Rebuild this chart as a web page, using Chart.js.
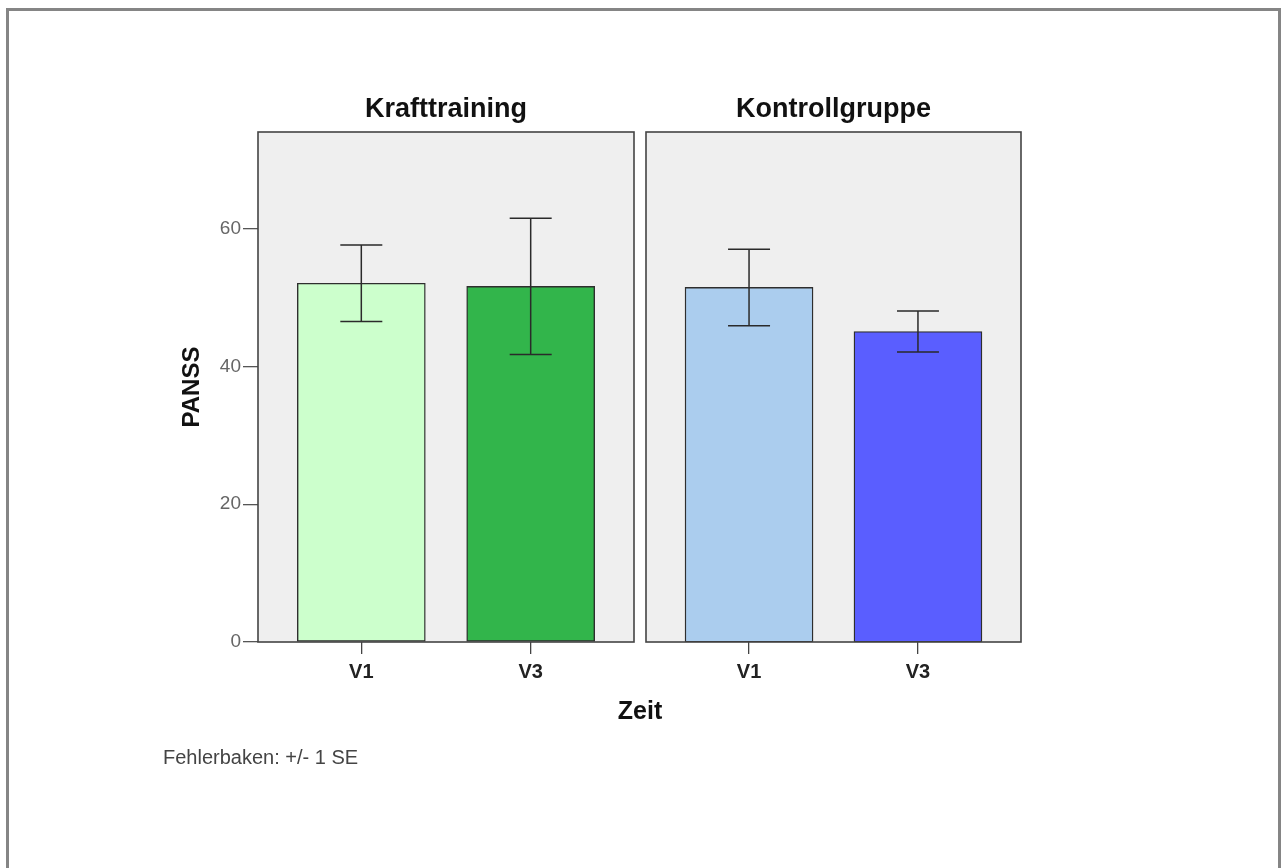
<!DOCTYPE html>
<html>
<head>
<meta charset="utf-8">
<script src="https://cdn.jsdelivr.net/npm/chart.js@4.4.1/dist/chart.umd.min.js"></script>
<style>
  html, body { margin: 0; padding: 0; background: #ffffff; }
  body { width: 1283px; height: 868px; position: relative; overflow: hidden;
         font-family: "Liberation Sans", Arial, sans-serif; }
  #rahmen { position: absolute; left: 6px; top: 8px; width: 1275px; height: 880px;
            border: 3px solid #858585; border-bottom: none; box-sizing: border-box; }
  canvas { position: absolute; top: 0; }
  #links { left: 0; }
  #rechts { left: 640px; }
  #zeit { position: absolute; left: 540px; width: 200px; top: 698px; text-align: center;
          font-weight: bold; font-size: 25px; line-height: 25px; color: #111; }
  #fussnote { position: absolute; left: 163px; top: 747px; font-size: 20px; line-height: 20px; color: #444; }
</style>
</head>
<body>
<div id="rahmen"></div>
<canvas id="links" width="640" height="868"></canvas>
<canvas id="rechts" width="643" height="868"></canvas>
<div id="zeit">Zeit</div>
<div id="fussnote">Fehlerbaken: +/- 1 SE</div>

<script>
// Gruppen (Panels) und Messzeitpunkte
const gruppen = ['Krafttraining', 'Kontrollgruppe'];
const zeitpunkte = ['V1', 'V3'];

// Mittelwerte PANSS und Standardfehler je Gruppe
const mittelKraft = [52.05, 51.6];
const seKraft = [5.55, 9.9];
const mittelKontrolle = [51.45, 45.05];
const seKontrolle = [5.55, 2.97];

// Achsenbeschriftung der PANSS-Skala
const yTicks = [0, 20, 40, 60];
const yMax = 74;

const farbenKraft = ['#ccffcc', '#32b54b'];
const farbenKontrolle = ['#abcdee', '#5a5eff'];

const schrift = '"Liberation Sans", Arial, sans-serif';

// Panel-Hintergrund, Rahmen und Fehlerbalken (+/- 1 SE)
const panelPlugin = {
  id: 'panel',
  beforeDraw(chart) {
    const a = chart.chartArea, ctx = chart.ctx;
    ctx.save();
    ctx.fillStyle = '#efefef';
    ctx.fillRect(a.left, a.top, a.right - a.left, a.bottom - a.top);
    ctx.restore();
  },
  afterDatasetsDraw(chart, args, opts) {
    const a = chart.chartArea, ctx = chart.ctx;
    const xs = chart.scales.x, ys = chart.scales.y;
    ctx.save();
    ctx.strokeStyle = '#2a2a2a';
    ctx.lineWidth = 1.5;
    opts.mittel.forEach((m, i) => {
      const x = xs.getPixelForValue(i + 1);
      const yo = ys.getPixelForValue(m + opts.se[i]);
      const yu = ys.getPixelForValue(m - opts.se[i]);
      ctx.beginPath();
      ctx.moveTo(x, yo); ctx.lineTo(x, yu);
      ctx.moveTo(x - 21, yo); ctx.lineTo(x + 21, yo);
      ctx.moveTo(x - 21, yu); ctx.lineTo(x + 21, yu);
      ctx.stroke();
    });
    ctx.strokeStyle = '#444444';
    ctx.lineWidth = 1.6;
    ctx.strokeRect(a.left, a.top, a.right - a.left, a.bottom - a.top);
    ctx.restore();
  }
};

function baueDiagramm(id, titel, mittel, se, farben, mitYAchse, padding) {
  return new Chart(document.getElementById(id), {
    type: 'bar',
    data: {
      datasets: [{
        data: mittel.map((v, i) => ({ x: i + 1, y: v })),
        backgroundColor: farben,
        borderColor: '#2e2e2e',
        borderWidth: 1.4,
        borderSkipped: false,
        barThickness: 128
      }]
    },
    options: {
      responsive: false,
      animation: false,
      events: [],
      layout: { padding: padding },
      plugins: {
        legend: { display: false },
        tooltip: { enabled: false },
        title: {
          display: true,
          text: titel,
          fullSize: false,
          color: '#111111',
          font: { family: schrift, size: 27, weight: 'bold' },
          padding: { top: 0, bottom: 6 }
        },
        panel: { mittel: mittel, se: se }
      },
      scales: {
        x: {
          type: 'linear',
          offset: false,
          min: 0.39,
          max: 2.61,
          afterBuildTicks: (s) => { s.ticks = zeitpunkte.map((_, i) => ({ value: i + 1 })); },
          afterFit: (s) => { s.height = 80; },
          grid: { offset: false, drawOnChartArea: false, drawTicks: true, tickLength: 12, color: '#444444', lineWidth: 1.3 },
          border: { display: false },
          ticks: {
            autoSkip: false, maxRotation: 0, padding: 6,
            color: '#222222',
            font: { family: schrift, size: 20, weight: 'bold' },
            callback: (v) => zeitpunkte[v - 1]
          }
        },
        y: {
          display: mitYAchse,
          min: 0,
          max: yMax,
          afterBuildTicks: (s) => { s.ticks = yTicks.map(v => ({ value: v })); },
          afterFit: (s) => { if (mitYAchse) s.width = 88; },
          grid: { drawOnChartArea: false, drawTicks: true, tickLength: 15, color: '#555555', lineWidth: 1.3 },
          border: { display: false },
          ticks: {
            padding: 2,
            color: '#666666',
            font: { family: schrift, size: 19 }
          },
          title: {
            display: true,
            text: 'PANSS',
            color: '#111111',
            font: { family: schrift, size: 24, weight: 'bold' },
            padding: { top: 8, bottom: 0 }
          }
        }
      }
    },
    plugins: [panelPlugin]
  });
}

baueDiagramm('links', gruppen[0], mittelKraft, seKraft, farbenKraft, true,
  { left: 170, right: 6, top: 93.6, bottom: 146 });
baueDiagramm('rechts', gruppen[1], mittelKontrolle, seKontrolle, farbenKontrolle, false,
  { left: 6, right: 262, top: 93.6, bottom: 146 });
</script>
</body>
</html>
